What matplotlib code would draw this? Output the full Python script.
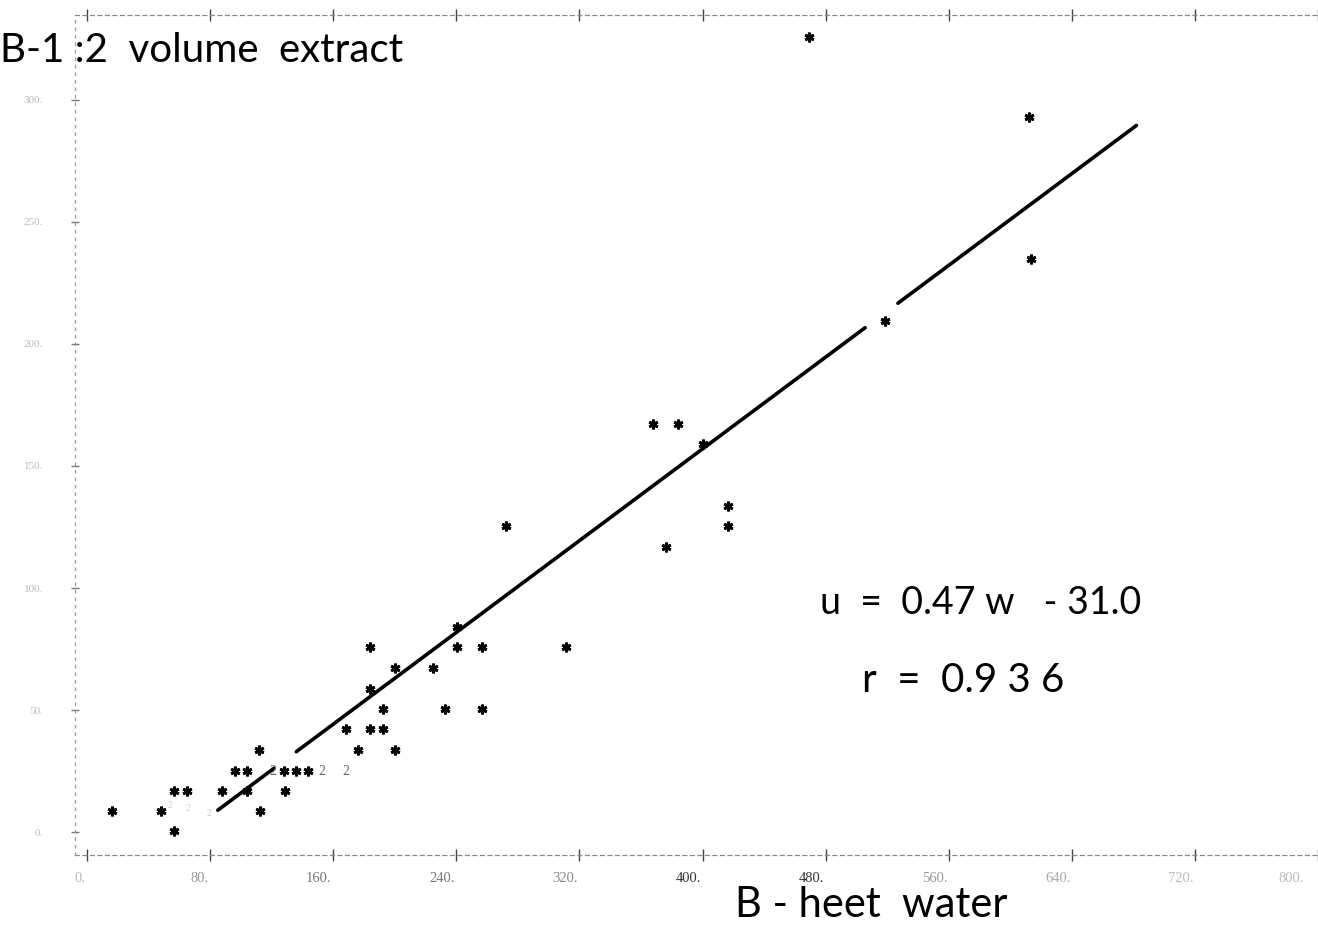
import matplotlib
matplotlib.use("Agg")
import matplotlib.pyplot as plt
from matplotlib.transforms import ScaledTranslation
import numpy as np

# ---------------- data ----------------
# single points (asterisks): hot water B (w) vs 1:2 volume extract B (u)
w_pts = [56.3, 16.2, 47.9, 112.7,
         56.3, 64.7, 88.0, 104.2, 128.9,
         96.5, 104.2, 128.2, 136.0, 143.7,
         112.0, 176.1, 200.0,
         168.3, 183.9, 192.3,
         192.3, 232.5, 256.4,
         183.9,
         200.0, 224.7,
         183.9, 240.2, 256.4, 311.4,
         240.2,
         376.2,
         272.0, 416.3,
         416.3,
         400.2,
         367.8, 384.0,
         518.6,
         613.8,
         612.5,
         469.4]
u_pts = [0.4, 8.6, 8.6, 8.6,
         16.8, 16.8, 16.8, 16.8, 16.8,
         25.0, 25.0, 25.0, 25.0, 25.0,
         33.6, 33.6, 33.6,
         42.2, 42.2, 42.2,
         50.4, 50.4, 50.4,
         58.6,
         67.2, 67.2,
         75.8, 75.8, 75.8, 75.8,
         84.0,
         117.0,
         125.4, 125.4,
         133.6,
         159.0,
         167.2, 167.2,
         209.4,
         234.8,
         293.0,
         325.8]

# overlapping points printed as "2"
w_dbl = [121.0, 152.8, 168.3]
u_dbl = [25.0, 25.0, 25.0]
# very faint printed marks
w_faint = [53.7, 65.4, 79.6]
u_faint = [11.0, 9.8, 7.8]

# regression u = 0.47 w - 31.0, hand drawn in three pieces
slope = 0.47
intercept = -31.0
line_segments = [(85.0, 121.7), (136.0, 505.7), (527.0, 682.0)]

x_ticks = [0, 80, 160, 240, 320, 400, 480, 560, 640, 720, 800]
x_tick_labels = ["0.", "80.", "160.", "240.", "320.", "400.", "480.", "560.", "640.", "720.", "800."]
x_tick_colors = ["#bbbbbb", "#999999", "#777777", "#777777", "#888888", "#333333",
                 "#333333", "#999999", "#aaaaaa", "#bbbbbb", "#bbbbbb"]
y_ticks = [0, 50, 100, 150, 200, 250, 300]
y_tick_labels = ["0.", "50.", "100.", "150.", "200.", "250.", "300."]

# ---------------- figure ----------------
W, H = 1318, 927
fig = plt.figure(figsize=(W / 100, H / 100), dpi=100)
fig.patch.set_facecolor("white")

ax_left, ax_right, ax_top, ax_bot = 75, 1318, 15, 855
ax = fig.add_axes([ax_left / W, 1 - ax_bot / H, (ax_right - ax_left) / W, (ax_bot - ax_top) / H])
ax.set_xlim(-7.8, 797)
ax.set_ylim(-9.4, 334.8)

# border styled like a line-printer frame
for s in ["top", "bottom"]:
    ax.spines[s].set_linestyle((0, (3, 3)))
    ax.spines[s].set_color("#888888")
    ax.spines[s].set_linewidth(0.9)
ax.spines["left"].set_linestyle((0, (2, 4)))
ax.spines["left"].set_color("#999999")
ax.spines["left"].set_linewidth(0.9)
ax.spines["right"].set_visible(False)

ax.set_xticks(x_ticks)
ax.set_xticklabels(x_tick_labels, fontsize=10.5, family="Liberation Serif")
ax.tick_params(axis="x", which="both", direction="inout", length=8, width=1,
               color="#444444", top=True, bottom=True, pad=8)
for i, (lbl, c) in enumerate(zip(ax.get_xticklabels(), x_tick_colors)):
    lbl.set_color(c)
    lbl.set_horizontalalignment("right")
    dx = -1 if i < len(x_ticks) - 1 else -10
    lbl.set_transform(lbl.get_transform() + ScaledTranslation(dx / 72, 0, fig.dpi_scale_trans))

ax.set_yticks(y_ticks)
ax.set_yticklabels(y_tick_labels, fontsize=8, family="Liberation Serif", color="#bbbbbb")
ax.tick_params(axis="y", direction="inout", length=6, width=1, color="#777777", pad=20)

# regression line
for a, b in line_segments:
    xs = np.array([a, b])
    ax.plot(xs, slope * xs + intercept, color="black", lw=2.6, solid_capstyle="round")

# asterisks
ax.plot(w_pts, u_pts, linestyle="none", marker=(6, 2, 0), markersize=7,
        markeredgewidth=2.0, color="black")
# doubled points
for x, y in zip(w_dbl, u_dbl):
    ax.text(x, y, "2", ha="center", va="center", fontsize=10,
            family="Liberation Serif", color="#666666")
for x, y in zip(w_faint, u_faint):
    ax.text(x, y, "2", ha="center", va="center", fontsize=7,
            family="Liberation Serif", color="#cccccc")

# handwritten annotations
hand = dict(family="Lato", color="black")
fig.text(0 / W, 1 - 50 / H, "B-1 :2  volume  extract", fontsize=29, ha="left", va="center", **hand)
fig.text(735 / W, 1 - 905 / H, "B - heet  water", fontsize=30, ha="left", va="center", **hand)
fig.text(820 / W, 1 - 603 / H, "u  =  0.47 w   - 31.0", fontsize=27, ha="left", va="center", **hand)
fig.text(862 / W, 1 - 680 / H, "r  =  0.9 3 6", fontsize=29, ha="left", va="center", **hand)

fig.savefig("out.png", dpi=100, facecolor="white")
